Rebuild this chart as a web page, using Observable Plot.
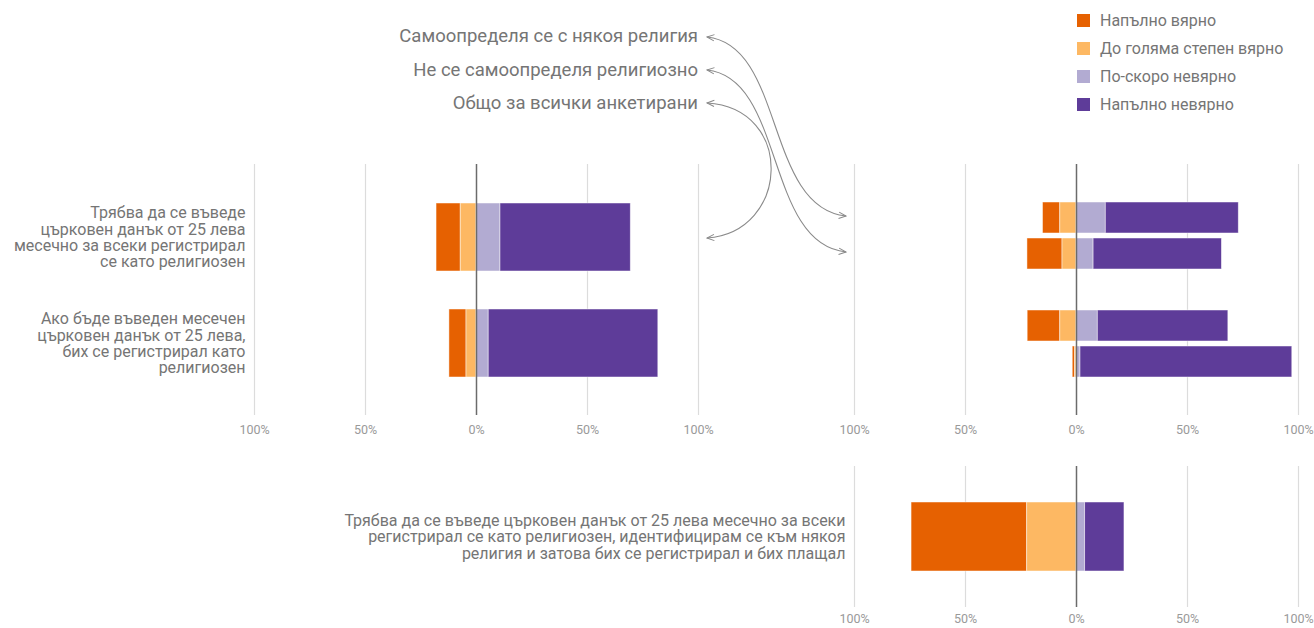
<!DOCTYPE html>
<html>
<head>
<meta charset="utf-8">
<script src="https://cdn.jsdelivr.net/npm/d3@7"></script>
<script src="https://cdn.jsdelivr.net/npm/@observablehq/plot@0.6"></script>
<style>
  html, body { margin: 0; padding: 0; background: #fff; }
  body { font-family: Roboto, "Noto Sans", sans-serif; }
  #wrap { position: relative; width: 1314px; height: 628px; overflow: hidden; }
  .abs { position: absolute; }
  .note { position: absolute; right: 616px; font-size: 18.5px; color: #757575; white-space: nowrap; line-height: 1; }
  #legend { position: absolute; left: 1077px; top: 6px; font-size: 16px; color: #757575; }
  #legend .item { display: flex; align-items: center; height: 28px; }
  #legend .sw { width: 13px; height: 13px; margin-right: 10px; }
</style>
</head>
<body>
<div id="wrap">
  <div class="note" style="top:27px">Самоопределя се с някоя религия</div>
  <div class="note" style="top:61px">Не се самоопределя религиозно</div>
  <div class="note" style="top:94px">Общо за всички анкетирани</div>
  <div id="legend"></div>
  <div id="left" class="abs" style="left:0;top:0"></div>
  <div id="right" class="abs" style="left:720px;top:0"></div>
  <div id="bottom" class="abs" style="left:0;top:450px"></div>
  <svg id="arrows" class="abs" style="left:0;top:0" width="1314" height="628">
    <defs>
      <marker id="ah" viewBox="0 0 10 10" refX="9" refY="5" markerWidth="9" markerHeight="9" orient="auto-start-reverse" markerUnits="userSpaceOnUse">
        <path d="M1,1.5 L9,5 L1,8.5" fill="none" stroke="#8a8a8a" stroke-width="1.1"/>
      </marker>
    </defs>
    <g fill="none" stroke="#8a8a8a" stroke-width="1.1">
      <path d="M707,37 C785,45 765,208 846,216" marker-start="url(#ah)" marker-end="url(#ah)"/>
      <path d="M707,70 C785,78 765,244 846,252" marker-start="url(#ah)" marker-end="url(#ah)"/>
      <path d="M707,103 C795,108 790,232 707,238" marker-start="url(#ah)" marker-end="url(#ah)"/>
    </g>
  </svg>
</div>
<script>
// ---- data ----
const categories = ["Напълно вярно", "До голяма степен вярно", "По-скоро невярно", "Напълно невярно"];
const colors = ["#e66101", "#fdb863", "#b2abd2", "#5e3c99"];

const questions = [
  "Трябва да се въведе\nцърковен данък от 25 лева\nмесечно за всеки регистрирал\nсе като религиозен",
  "Ако бъде въведен месечен\nцърковен данък от 25 лева,\nбих се регистрирал като\nрелигиозен"
];
const bottomQuestion = "Трябва да се въведе църковен данък от 25 лева месечно за всеки\nрегистрирал се като религиозен, идентифицирам се към някоя\nрелигия и затова бих се регистрирал и бих плащал";

// overall (all respondents), per question, values in category order (%)
const totalQ1 = [10.9, 7.1, 10.8, 58.7];
const totalQ2 = [7.7, 4.5, 5.5, 76.4];

// by group: religious / non-religious
const groups = ["Самоопределя се с някоя религия", "Не се самоопределя религиозно"];
const relQ1 = [7.8, 7.3, 13.2, 59.9];
const nonRelQ1 = [15.8, 6.3, 7.7, 57.8];
const relQ2 = [14.7, 7.3, 9.6, 58.8];
const nonRelQ2 = [1.1, 0.6, 1.8, 95.4];

const bottomValues = [52.1, 22.2, 3.9, 17.7];

const ticks = [-100, -50, 0, 50, 100];

// ---- helpers ----
function segments(values, row) {
  const [a, b, c, d] = values;
  return [
    {row, cat: categories[0], x1: -(a + b), x2: -b},
    {row, cat: categories[1], x1: -b, x2: 0},
    {row, cat: categories[2], x1: 0, x2: c},
    {row, cat: categories[3], x1: c, x2: c + d}
  ];
}
const colorScale = {domain: categories, range: colors};
const tickFmt = d => Math.abs(d) + "%";

function baseMarks(data, tickPad) {
  return [
    Plot.ruleX(ticks.filter(t => t !== 0), {stroke: "#dcdcdc", strokeWidth: 1.2}),
    Plot.barX(data, {x1: "x1", x2: "x2", y: "row", fill: "cat", stroke: "#fff", strokeWidth: 0.8, strokeOpacity: 0.6}),
    Plot.ruleX([0], {stroke: "#6b6b6b", strokeWidth: 1.5}),
    Plot.axisX({ticks, tickFormat: tickFmt, tickSize: 0, tickPadding: tickPad, fontSize: 12.5, fill: "#9a9a9a", label: null})
  ];
}

// ---- legend ----
const legend = document.getElementById("legend");
categories.forEach((c, i) => {
  const it = document.createElement("div");
  it.className = "item";
  it.innerHTML = `<div class="sw" style="background:${colors[i]}"></div><div>${c}</div>`;
  legend.appendChild(it);
});

// ---- left panel (all respondents) ----
const leftData = [...segments(totalQ1, questions[0]), ...segments(totalQ2, questions[1])];
const left = Plot.plot({
  width: 720, height: 450,
  marginTop: 164, marginBottom: 35, marginLeft: 254, marginRight: 22,
  style: {fontFamily: "Roboto, 'Noto Sans', sans-serif", background: "transparent", overflow: "visible"},
  x: {domain: [-100, 100], axis: null},
  y: {domain: questions, paddingInner: 0.362, paddingOuter: 0.36, axis: null},
  color: colorScale,
  marks: [
    ...baseMarks(leftData, 10),
    Plot.axisY({tickSize: 0, tickPadding: 9, fontSize: 16, fill: "#757575", lineHeight: 1.03, tickFormat: d => d, label: null})
  ]
});
document.getElementById("left").appendChild(left);

// ---- right panel (by group) ----
const rowsRight = ["q1-rel", "q1-non", "spacer", "q2-rel", "q2-non"];
const rightData = [
  ...segments(relQ1, "q1-rel"), ...segments(nonRelQ1, "q1-non"),
  ...segments(relQ2, "q2-rel"), ...segments(nonRelQ2, "q2-non")
];
const right = Plot.plot({
  width: 594, height: 450,
  marginTop: 164, marginBottom: 35, marginLeft: 134, marginRight: 16,
  style: {fontFamily: "Roboto, 'Noto Sans', sans-serif", background: "transparent", overflow: "visible"},
  x: {domain: [-100, 100], axis: null},
  y: {domain: rowsRight, paddingInner: 0.126, paddingOuter: 0.99, axis: null},
  color: colorScale,
  marks: baseMarks(rightData, 10)
});
document.getElementById("right").appendChild(right);

// ---- bottom panel ----
const bottomData = segments(bottomValues, bottomQuestion);
const bottom = Plot.plot({
  width: 1314, height: 178,
  marginTop: 16, marginBottom: 21, marginLeft: 854, marginRight: 16,
  style: {fontFamily: "Roboto, 'Noto Sans', sans-serif", background: "transparent", overflow: "visible"},
  x: {domain: [-100, 100], axis: null},
  y: {domain: [bottomQuestion], paddingInner: 0.5, paddingOuter: 0.26, axis: null},
  color: colorScale,
  marks: [
    ...baseMarks(bottomData, 7),
    Plot.axisY({tickSize: 0, tickPadding: 9, fontSize: 16, fill: "#757575", lineHeight: 1.02, tickFormat: d => d, label: null})
  ]
});
document.getElementById("bottom").appendChild(bottom);
</script>
</body>
</html>
